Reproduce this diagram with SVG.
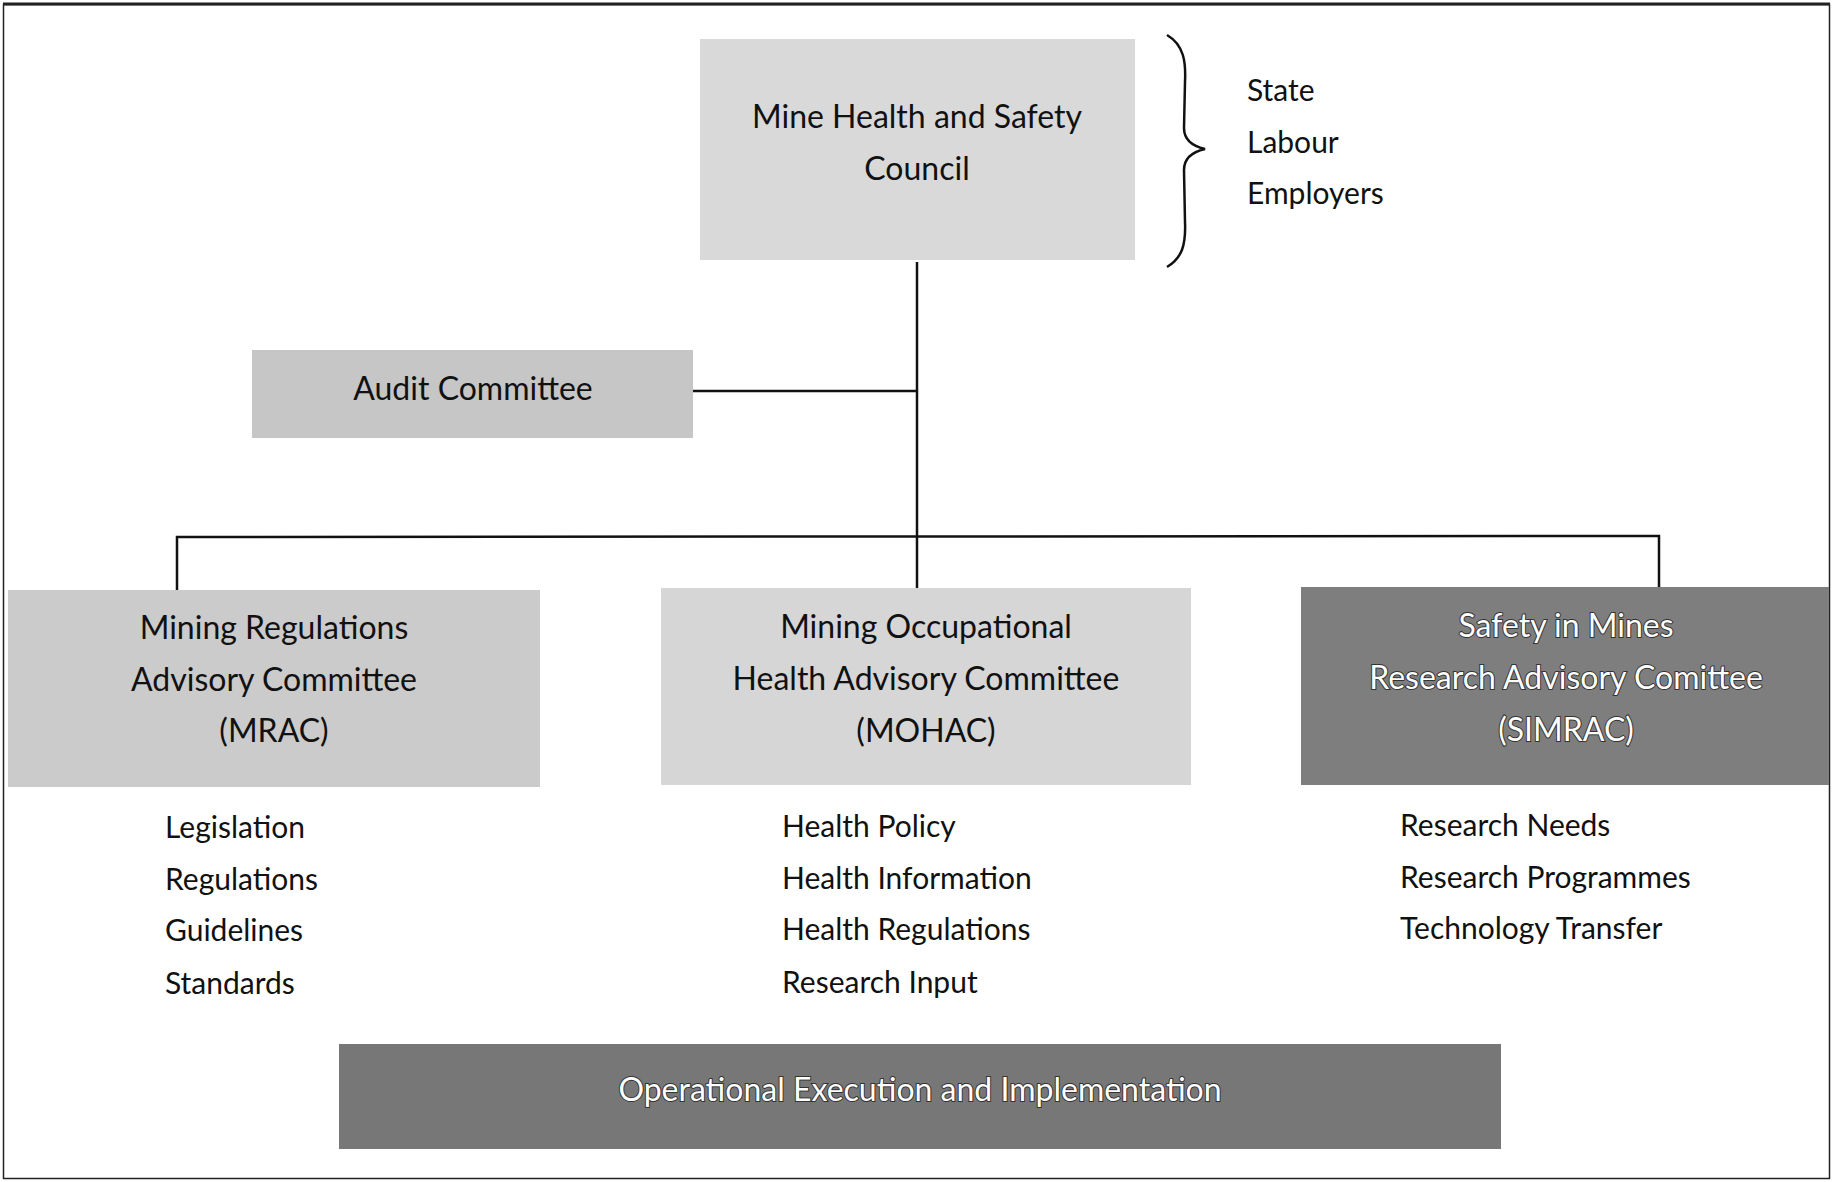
<svg xmlns="http://www.w3.org/2000/svg" width="1835" height="1182" viewBox="0 0 1835 1182">
  <style>
    .box-text { font-family: Lato, "Liberation Sans", sans-serif; font-size: 32px; fill: #111; text-anchor: middle; }
    .box-text-inv { font-family: Lato, "Liberation Sans", sans-serif; font-size: 32px; fill: #fff; text-anchor: middle; stroke: #333; stroke-width: 2; paint-order: stroke; }
    .item { font-family: Lato, "Liberation Sans", sans-serif; font-size: 30px; fill: #111; }
    .link { stroke: #111; fill: none; stroke-width: 2.5; }
  </style>
  <rect x="0" y="0" width="1835" height="1182" fill="#fff"/>
  <!-- outer frame -->
  <rect x="3.5" y="4.5" width="1826" height="1174" fill="none" stroke="#222" stroke-width="1.5"/>
  <line x1="3" y1="4" x2="1830" y2="4" stroke="#222" stroke-width="3"/>

  <!-- connectors -->
  <g id="connectors">
    <line class="link" x1="917" y1="262" x2="917" y2="588"/>
    <line class="link" x1="693" y1="391" x2="917" y2="391" stroke-width="3.5"/>
    <polyline class="link" points="177,590 177,537 1659,536 1659,587" stroke-width="3"/>
  </g>

  <g id="council">
    <rect x="700" y="39" width="435" height="221" fill="#d9d9d9"/>
    <text class="box-text" x="917" y="128">Mine Health and Safety</text>
    <text class="box-text" x="917" y="180">Council</text>
  </g>

  <g id="constituents">
    <path d="M1167,35 C1184,45 1186,62 1185,82 L1184,128 C1184,140 1192,146 1205,149 C1192,152 1184,158 1184,170 L1185,222 C1186,245 1182,258 1167,267" fill="none" stroke="#111" stroke-width="2.5"/>
    <text class="item" x="1247" y="101">State</text>
    <text class="item" x="1247" y="153">Labour</text>
    <text class="item" x="1247" y="204">Employers</text>
  </g>

  <g id="audit">
    <rect x="252" y="350" width="441" height="88" fill="#c6c6c6"/>
    <text class="box-text" x="473" y="400">Audit Committee</text>
  </g>

  <g id="mrac">
    <rect x="8" y="590" width="532" height="197" fill="#cbcbcb"/>
    <text class="box-text" x="274" y="639">Mining Regulations</text>
    <text class="box-text" x="274" y="691">Advisory Committee</text>
    <text class="box-text" x="274" y="742">(MRAC)</text>
  </g>

  <g id="mohac">
    <rect x="661" y="588" width="530" height="197" fill="#d6d6d6"/>
    <text class="box-text" x="926" y="638">Mining Occupational</text>
    <text class="box-text" x="926" y="690">Health Advisory Committee</text>
    <text class="box-text" x="926" y="742">(MOHAC)</text>
  </g>

  <g id="simrac">
    <rect x="1301" y="587" width="528" height="198" fill="#7e7e7e"/>
    <text class="box-text-inv" x="1566" y="637">Safety in Mines</text>
    <text class="box-text-inv" x="1566" y="689">Research Advisory Comittee</text>
    <text class="box-text-inv" x="1566" y="741">(SIMRAC)</text>
  </g>

  <g id="mrac-items">
    <text class="item" x="165" y="838">Legislation</text>
    <text class="item" x="165" y="890">Regulations</text>
    <text class="item" x="165" y="941">Guidelines</text>
    <text class="item" x="165" y="994">Standards</text>
  </g>

  <g id="mohac-items">
    <text class="item" x="782" y="837">Health Policy</text>
    <text class="item" x="782" y="889">Health Information</text>
    <text class="item" x="782" y="940">Health Regulations</text>
    <text class="item" x="782" y="993">Research Input</text>
  </g>

  <g id="simrac-items">
    <text class="item" x="1400" y="836">Research Needs</text>
    <text class="item" x="1400" y="888">Research Programmes</text>
    <text class="item" x="1400" y="939">Technology Transfer</text>
  </g>

  <g id="operations">
    <rect x="339" y="1044" width="1162" height="105" fill="#777"/>
    <text class="box-text-inv" x="920" y="1101">Operational Execution and Implementation</text>
  </g>
</svg>
